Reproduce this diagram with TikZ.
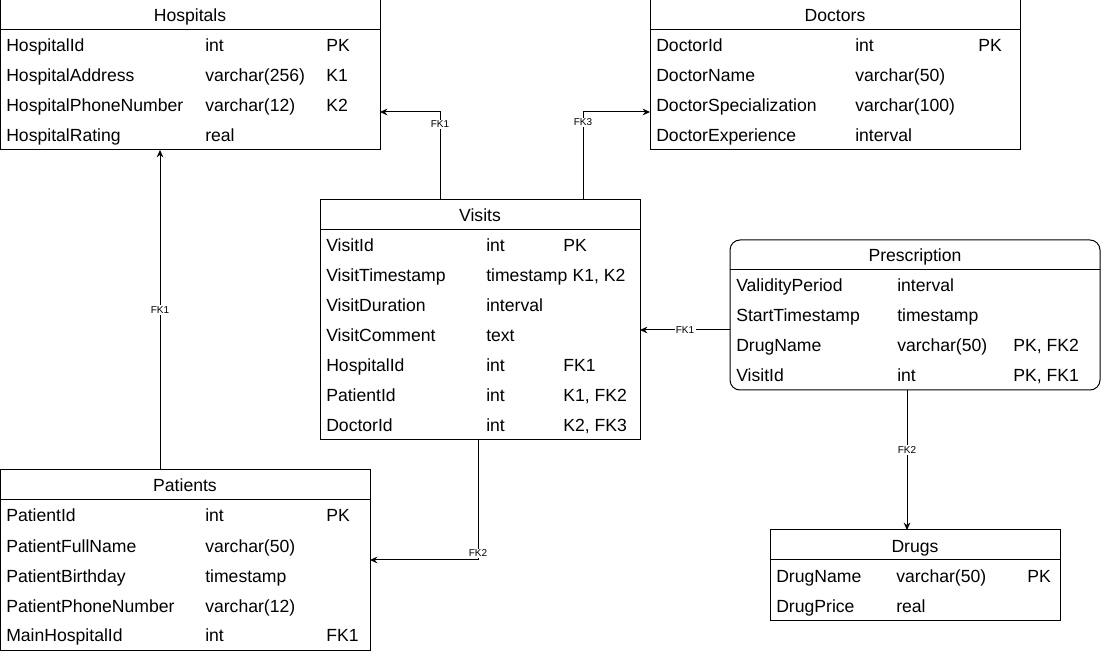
\documentclass[tikz,border=0pt]{standalone}
\usepackage{fontspec}
\setmainfont{Liberation Sans}
\usepackage{tikz}
\usetikzlibrary{arrows.meta}

\tikzset{
  tbl/.style={draw,line width=0.75pt,anchor=north west,inner sep=0pt,outer sep=0pt},
  ttl/.style={anchor=base,inner sep=0pt,font=\fontsize{13.2}{15}\selectfont},
  cell/.style={anchor=base west,inner sep=0pt,font=\fontsize{13.2}{15}\selectfont},
  fk/.style={-{Stealth[length=5.5pt,width=5pt]},line width=0.75pt},
  fklbl/.style={fill=white,inner sep=1pt,font=\fontsize{7.5}{8}\selectfont}
}

\begin{document}
\begin{tikzpicture}[x=0.75pt,y=-0.75pt]
\useasboundingbox (0,0) rectangle (1101,652);

\node[tbl,minimum width=285pt,minimum height=112.5pt] (hosp) at (0,0) {};
\node[ttl] (hosp-h) at (190,22) {Hospitals};
\draw[line width=0.75pt] (0,30)--(380,30);
\foreach \n/\t/\k [count=\i] in {HospitalId/int/PK,HospitalAddress/varchar(256)/K1,
  HospitalPhoneNumber/varchar(12)/K2,HospitalRating/real/{}}
{ \node[cell] (hosp-n\i) at (6,22+30*\i) {\n};
  \node[cell] (hosp-t\i) at (205,22+30*\i) {\t};
  \node[cell] (hosp-k\i) at (326,22+30*\i) {\k};
}

\node[tbl,minimum width=277.5pt,minimum height=112.5pt] (doc) at (650,0) {};
\node[ttl] (doc-h) at (835,22) {Doctors};
\draw[line width=0.75pt] (650,30)--(1020,30);
\foreach \n/\t/\k [count=\i] in {DoctorId/int/PK,DoctorName/varchar(50)/{},
  DoctorSpecialization/varchar(100)/{},DoctorExperience/interval/{}}
{ \node[cell] (doc-n\i) at (656,22+30*\i) {\n};
  \node[cell] (doc-t\i) at (855,22+30*\i) {\t};
  \node[cell] (doc-k\i) at (978,22+30*\i) {\k};
}

\node[tbl,minimum width=240pt,minimum height=180pt] (visit) at (320,200) {};
\node[ttl] (visit-h) at (480,222) {Visits};
\draw[line width=0.75pt] (320,230)--(640,230);
\foreach \n/\t/\k [count=\i] in {VisitId/int/PK,VisitTimestamp/timestamp/{\hspace{7pt}K1, K2},
  VisitDuration/interval/{},VisitComment/text/{},HospitalId/int/FK1,
  PatientId/int/{K1, FK2},DoctorId/int/{K2, FK3}}
{ \node[cell] (visit-n\i) at (326,222+30*\i) {\n};
  \node[cell] (visit-t\i) at (486,222+30*\i) {\t};
  \node[cell] (visit-k\i) at (563,222+30*\i) {\k};
}

\node[tbl,rounded corners=7.5pt,minimum width=277.5pt,minimum height=112.5pt] (presc) at (730,240) {};
\node[ttl] (presc-h) at (915,262) {Prescription};
\draw[line width=0.75pt] (730,270)--(1100,270);
\foreach \n/\t/\k [count=\i] in {ValidityPeriod/interval/{},StartTimestamp/timestamp/{},
  DrugName/varchar(50)/{PK, FK2},VisitId/int/{PK, FK1}}
{ \node[cell] (presc-n\i) at (736,262+30*\i) {\n};
  \node[cell] (presc-t\i) at (897,262+30*\i) {\t};
  \node[cell] (presc-k\i) at (1013,262+30*\i) {\k};
}

\node[tbl,minimum width=217.5pt,minimum height=67.5pt] (drug) at (770,530) {};
\node[ttl] (drug-h) at (915,552) {Drugs};
\draw[line width=0.75pt] (770,560)--(1060,560);
\foreach \n/\t/\k [count=\i] in {DrugName/varchar(50)/PK,DrugPrice/real/{}}
{ \node[cell] (drug-n\i) at (776,552+30*\i) {\n};
  \node[cell] (drug-t\i) at (896,552+30*\i) {\t};
  \node[cell] (drug-k\i) at (1027,552+30*\i) {\k};
}

\node[tbl,minimum width=277.5pt,minimum height=135pt] (pat) at (0,470) {};
\node[ttl] (pat-h) at (185,492) {Patients};
\draw[line width=0.75pt] (0,500)--(370,500);
\foreach \n/\t/\k [count=\i] in {PatientId/int/PK,PatientFullName/varchar(50)/{},
  PatientBirthday/timestamp/{},PatientPhoneNumber/varchar(12)/{},MainHospitalId/int/FK1}
{ \node[cell] (pat-n\i) at (6,492+30*\i) {\n};
  \node[cell] (pat-t\i) at (205,492+30*\i) {\t};
  \node[cell] (pat-k\i) at (326,492+30*\i) {\k};
}

\draw[fk] (visit.north -| 440,0) |- (hosp.east |- 0,112) node[fklbl,pos=0.43] {FK1};
\draw[fk] (visit.north -| 583,0) |- (doc.west |- 0,112) node[fklbl,pos=0.44] {FK3};
\draw[fk] (presc.west |- 0,330) -- (visit.east |- 0,330) node[fklbl,pos=0.5] {FK1};
\draw[fk] (presc.south -| 907,0) -- (drug.north -| 907,0) node[fklbl,pos=0.43] {FK2};
\draw[fk] (pat.north -| 160,0) -- (hosp.south -| 160,0) node[fklbl,pos=0.5] {FK1};
\draw[fk] (visit.south -| 478,0) |- (pat.east |- 0,560) node[fklbl,pos=0.5,yshift=5pt] {FK2};
\end{tikzpicture}
\end{document}
